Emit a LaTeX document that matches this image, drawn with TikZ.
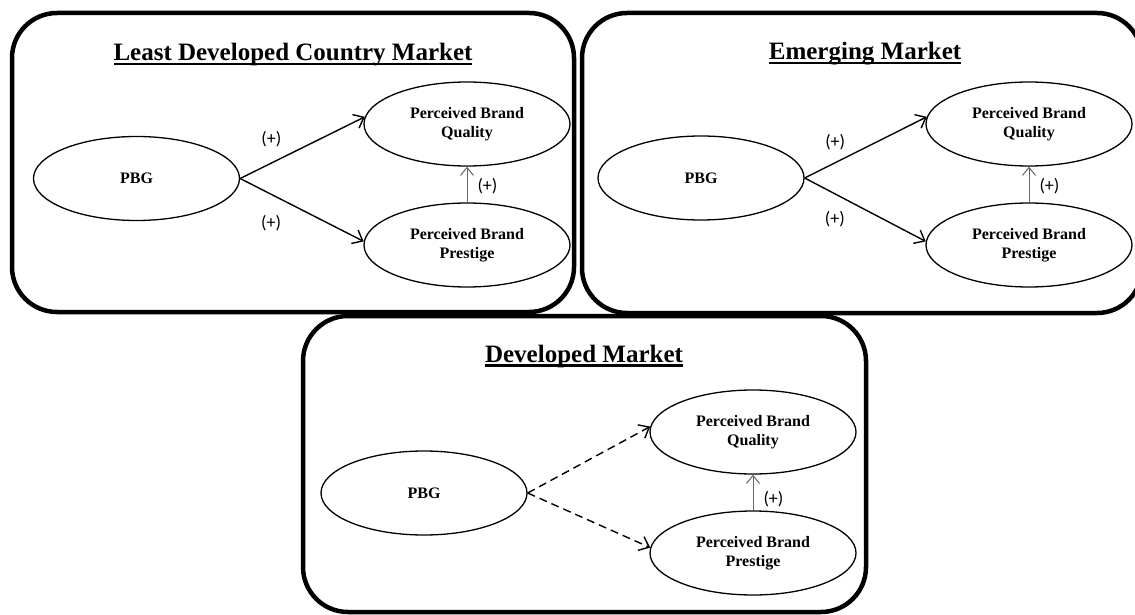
\documentclass[tikz,border=0pt]{standalone}
\usepackage{fontspec}
\setmainfont{Liberation Serif}
\newfontfamily\signfont{Carlito}
\usetikzlibrary{shapes.geometric,positioning,arrows.meta}
\newsavebox\titlebox
\newcommand{\bartitle}[1]{\sbox\titlebox{#1}\rlap{\rule[-4.5pt]{\wd\titlebox}{2.4pt}}\usebox\titlebox}

\begin{document}
\begin{tikzpicture}[x=1pt,y=-1pt,on grid,
        panel/.style={line width=4.5pt,rounded corners=45pt},
        heading/.style={anchor=base,inner sep=0pt,font=\bfseries\fontsize{25}{30}\selectfont},
        latent/.style={ellipse,draw,line width=1.3pt,minimum width=206pt,minimum height=84pt,
            inner sep=0pt,align=center,font=\bfseries\fontsize{16}{19}\selectfont},
        sign/.style={inner sep=0pt,font=\signfont\fontsize{18}{18}\selectfont},
        effect/.style={line width=1.4pt,-{Straight Barb[length=9pt,width=15pt]}},
        hint/.style={effect,dash pattern=on 8pt off 5pt},
        gauge/.style={line width=1pt,draw=black!60,-{Straight Barb[length=8pt,width=13pt]}}]
                \useasboundingbox (0,0) rectangle (1135,615);

                \draw[panel] (12,13) rectangle (574,312);
                \draw[panel] (582,13) rectangle (1142,313);
                \draw[panel] (303,316) rectangle (866,612);

                \node[heading] (t1) at (293,61) {\bartitle{Least Developed Country Market}};
                \node[heading] (t2) at (865,60) {\bartitle{Emerging Market}};
                \node[heading] (t3) at (584,362) {\bartitle{Developed Market}};

                \node[latent] (pbg1) at (136.5,178.5) {PBG};
                \node[latent] (pbq1) [above right=54.5pt and 330.5pt of pbg1] {Perceived Brand\\Quality};
                \node[latent] (pbp1) [below=121pt of pbq1] {Perceived Brand\\Prestige};

                \node[latent] (pbg2) at (701,178) {PBG};
                \node[latent] (pbq2) [above right=54pt and 328pt of pbg2] {Perceived Brand\\Quality};
                \node[latent] (pbp2) [below=121pt of pbq2] {Perceived Brand\\Prestige};

                \node[latent] (pbg3) at (424,493) {PBG};
                \node[latent] (pbq3) [above right=61pt and 329pt of pbg3] {Perceived Brand\\Quality};
                \node[latent] (pbp3) [below=121pt of pbq3] {Perceived Brand\\Prestige};

                \path[effect]
                (pbg1.east) edge node[sign,pos=.25,above=15pt] (s1a) {(+)} (pbq1.176)
                (pbg1.east) edge node[sign,pos=.25,below=20pt] (s1b) {(+)} (pbp1.178)
                (pbg2.east) edge node[sign,pos=.25,above=12pt] (s2a) {(+)} (pbq2.176)
                (pbg2.east) edge node[sign,pos=.25,below=17pt] (s2b) {(+)} (pbp2.178);

                \path[hint]
                (pbg3.east) edge (pbq3.177)
                (pbg3.east) edge (pbp3.177);

                \path[gauge]
                (pbp1) edge node[sign,pos=.45,right=10pt] (s1c) {(+)} (pbq1)
                (pbp2) edge node[sign,pos=.45,right=10pt] (s2c) {(+)} (pbq2)
                (pbp3) edge node[sign,pos=.3,right=10pt] (s3c) {(+)} (pbq3);
            \end{tikzpicture}
\end{document}
